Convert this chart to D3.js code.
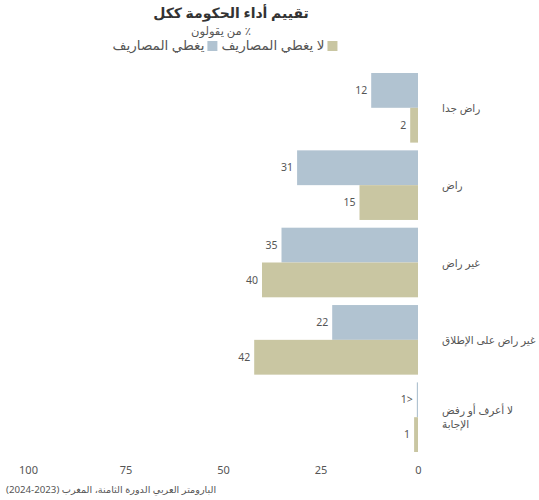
<!DOCTYPE html>
<html>
<head>
<meta charset="utf-8">
<script src="https://cdn.jsdelivr.net/npm/d3@7"></script>
<style>
  html, body { margin: 0; padding: 0; background: #fff; }
  svg { display: block; font-family: "Noto Sans", "DejaVu Sans", sans-serif; }
</style>
</head>
<body>
<svg id="chart" width="539" height="500"></svg>
<script>
// Government performance rating, Morocco (Arab Barometer wave VIII)
const categories = ["راض جدا", "راض", "غير راض", "غير راض على الإطلاق", "لا أعرف أو رفض الإجابة"];
const seriesNames = ["يغطي المصاريف", "لا يغطي المصاريف"];
const coversExpenses = [12, 31, 35, 22, 0.3];
const notCoversExpenses = [2, 15, 40, 42, 1];
const tickValues = [0, 25, 50, 75, 100];
const colors = ["#b1c3d1", "#c9c6a2"];

const title = "تقييم أداء الحكومة ككل";
const subtitle = "٪ من يقولون";
const source = "البارومتر العربي الدورة الثامنة، المغرب (2023-2024)";

const svg = d3.select("#chart");

// Break a label into lines of at most maxChars characters
function wrapWords(str, maxChars) {
  const lines = [];
  let line = "";
  str.split(" ").forEach(w => {
    const next = line ? line + " " + w : w;
    if (next.length > maxChars && line) { lines.push(line); line = w; }
    else line = next;
  });
  if (line) lines.push(line);
  return lines;
}

// Right-to-left text; side "left" / "right" / "middle" in screen terms
function rtlText(parent, str, x, y, side, size, fill, weight) {
  const anchor = side === "left" ? "end" : side === "right" ? "start" : "middle";
  return parent.append("text")
    .attr("direction", "rtl")
    .attr("text-anchor", anchor)
    .attr("x", x).attr("y", y)
    .attr("font-size", size)
    .attr("fill", fill)
    .attr("font-weight", weight || "normal")
    .text(str);
}

const x = d3.scaleLinear().domain([0, 100]).range([418, 28]);
const y = d3.scaleBand().domain(categories).range([73, 452]).paddingInner(0.1).paddingOuter(0);
const ySub = d3.scaleBand().domain(seriesNames).range([0, y.bandwidth()]);

const rows = categories.map((c, i) => ({
  category: c,
  values: [
    { series: seriesNames[0], value: coversExpenses[i], color: colors[0] },
    { series: seriesNames[1], value: notCoversExpenses[i], color: colors[1] }
  ]
}));

// Bars
const rowG = svg.append("g").selectAll("g")
  .data(rows).join("g")
  .attr("transform", d => `translate(0,${y(d.category)})`);

rowG.selectAll("rect")
  .data(d => d.values).join("rect")
  .attr("x", d => x(d.value))
  .attr("y", d => ySub(d.series))
  .attr("width", d => x(0) - x(d.value))
  .attr("height", ySub.bandwidth())
  .attr("fill", d => d.color);

// Value labels
rowG.selectAll("text.val")
  .data(d => d.values).join("text")
  .attr("class", "val")
  .attr("direction", "rtl")
  .attr("text-anchor", "start")
  .attr("x", d => x(d.value) - 4)
  .attr("y", d => ySub(d.series) + ySub.bandwidth() / 2)
  .attr("dy", "0.35em")
  .attr("font-size", 10.5)
  .attr("fill", "#555")
  .text(d => d.value < 1 ? "<1" : d.value);

// Category labels
rows.forEach(r => {
  const lines = wrapWords(r.category, 20);
  const lh = 13.5;
  const cy = y(r.category) + y.bandwidth() / 2;
  lines.forEach((ln, i) => {
    const ly = cy + (i - (lines.length - 1) / 2) * lh + 4;
    rtlText(svg, ln, 442, ly, "left", 10.5, "#555");
  });
});

// Axis
const axis = svg.append("g")
  .attr("transform", "translate(0,461)")
  .call(d3.axisBottom(x).tickValues(tickValues).tickSize(0).tickPadding(5));
axis.select(".domain").remove();
axis.selectAll("text").attr("font-size", 11).attr("fill", "#555")
  .attr("font-family", "\"Noto Sans\", \"DejaVu Sans\", sans-serif");

// Title block
rtlText(svg, title, 231, 18, "middle", 14, "#333", "bold");
rtlText(svg, subtitle, 221, 35, "middle", 11.5, "#555");

// Legend: items placed right to left, swatch on the right of its text
const legendG = svg.append("g");
let right = 0;
[1, 0].forEach(i => {
  legendG.append("rect")
    .attr("x", right - 10).attr("y", -9)
    .attr("width", 10).attr("height", 10)
    .attr("fill", colors[i]);
  const t = rtlText(legendG, seriesNames[i], right - 13, 0, "right", 13.5, "#555");
  right = right - 13 - t.node().getComputedTextLength() - 4;
});
const legendWidth = -right - 4;
legendG.attr("transform", `translate(${225 + legendWidth / 2},50)`);

// Source
rtlText(svg, source, 6, 493, "left", 9.7, "#555");
</script>
</body>
</html>
